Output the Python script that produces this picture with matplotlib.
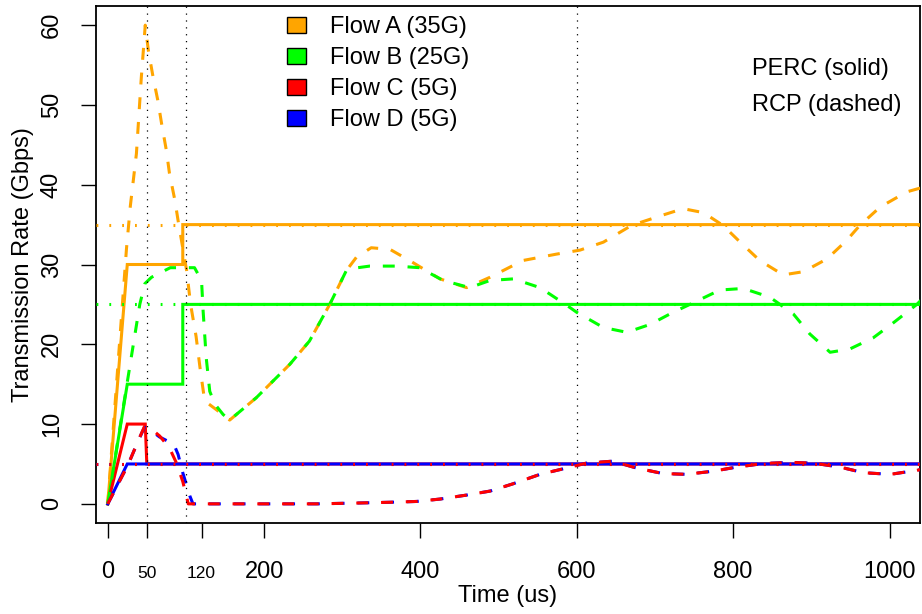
import matplotlib
matplotlib.use("Agg")
import matplotlib.pyplot as plt
from matplotlib.patches import Patch

plt.rcParams['font.family'] = ['Liberation Sans', 'DejaVu Sans']

# flow colours and legend names
flow_names = ['Flow A (35G)', 'Flow B (25G)', 'Flow C (5G)', 'Flow D (5G)']
flow_colors = ['#FFA500', '#00FF00', '#FF0000', '#0000FF']
fair_share = [35, 25, 5, 5]

# PERC rates (solid)
perc_a_t = [0, 25, 96, 96, 1040]
perc_a = [0, 30, 30, 35, 35]
perc_b_t = [0, 25, 96, 96, 1040]
perc_b = [0, 15, 15, 25, 25]
perc_c_t = [0, 25, 48, 50, 1040]
perc_c = [0, 10, 10, 5, 5]
perc_d_t = [0, 25, 1040]
perc_d = [0, 5, 5]

# RCP rates (dashed)
rcp_a_t = [0, 24, 29, 36.7, 43, 48, 52, 58, 64, 69, 75, 79, 86, 90, 101, 106, 113,
           118, 124, 139, 156, 190, 233, 258, 284, 305, 318, 337, 361, 386, 425, 459,
           489, 531, 574, 604, 634, 670, 707, 736, 762, 787, 809, 834, 864, 890, 920,
           945, 962, 988, 1022, 1040]
rcp_a = [0, 32, 37.4, 43.9, 53.5, 60, 56.8, 53.5, 50.6, 47.6, 44.3, 41.4, 38, 35.5,
         29.2, 25, 21, 17.1, 12.9, 11.8, 10.5, 13.3, 17.5, 20.4, 25, 29.2, 30.9, 32.1,
         31.9, 30.5, 28.2, 27.1, 28.4, 30.5, 31.3, 31.8, 32.8, 34.9, 36.1, 37, 36.5,
         34.9, 32.8, 30.5, 28.7, 29.1, 30.7, 33, 34.9, 37.2, 39.1, 39.6]
rcp_b_t = [0, 30, 41, 47.5, 56, 80, 111, 120, 122, 126, 130.5, 137, 147.6, 156, 190,
           233, 258, 284, 305, 320, 335, 369, 399, 429, 463, 489, 519, 553, 587, 600,
           634, 664, 694, 723, 749, 783, 813, 847, 877, 898, 924, 949, 979, 1005, 1035,
           1040]
rcp_b = [0, 18.3, 25, 27.6, 28.4, 29.6, 29.6, 28, 24.2, 18.3, 14.1, 12.5, 11.2, 10.5,
         13.3, 17.5, 20.4, 25, 29.2, 29.6, 29.8, 29.8, 29.6, 28, 27.1, 28, 28.2, 27.1,
         24.9, 24, 22.1, 21.5, 22.5, 24, 25.2, 26.8, 27, 25.9, 23.8, 21.3, 19, 19.4,
         20.8, 22.7, 25, 25.5]
rcp_c_t = [0, 26, 39, 47, 58, 66.5, 79, 88, 96, 103, 267, 318, 361, 395, 425, 459,
           489, 518, 553, 583, 612, 646, 676, 710, 740, 775, 804, 839, 873, 903, 937,
           967, 1001, 1035, 1040]
rcp_c = [0, 4.9, 7.9, 9.7, 9.2, 8.5, 7, 5.1, 2.8, 0, 0, 0.1, 0.2, 0.3, 0.6, 1.1, 1.6,
         2.5, 3.7, 4.4, 5.1, 5.35, 4.5, 3.8, 3.7, 4.1, 4.6, 5.06, 5.2, 5.1, 4.6, 3.9,
         3.7, 4.2, 4.3]
rcp_d_t = [0, 26, 39, 47, 54, 66, 76, 84, 90, 96, 105, 109, 267, 318, 361, 395, 425,
           459, 489, 518, 553, 583, 612, 646, 676, 710, 740, 775, 804, 839, 873, 903,
           937, 967, 1001, 1035, 1040]
rcp_d = [0, 4.9, 7.9, 9.6, 9.3, 8.4, 7.9, 7.6, 6.2, 3.9, 1, 0, 0, 0.1, 0.2, 0.3, 0.6,
         1.1, 1.6, 2.5, 3.7, 4.4, 5.1, 5.35, 4.5, 3.8, 3.7, 4.1, 4.6, 5.06, 5.2, 5.1,
         4.6, 3.9, 3.7, 4.2, 4.3]

event_times = [50, 100, 600]
x_ticks = [0, 50, 120, 200, 400, 600, 800, 1000]
small_ticks = [50, 120]
y_ticks = [0, 10, 20, 30, 40, 50, 60]

fig = plt.figure(figsize=(9.22, 6.14), dpi=100)
ax = fig.add_axes([96 / 922, 91 / 614, 824 / 922, 517 / 614])

lw = 2.2
perc = [(perc_a_t, perc_a), (perc_b_t, perc_b), (perc_c_t, perc_c), (perc_d_t, perc_d)]
for (t, r), c in zip(perc, flow_colors):
    ax.plot(t, r, color=c, lw=lw, solid_joinstyle='miter', zorder=3)

# blue before red so red sits on top
rcp = [(rcp_a_t, rcp_a), (rcp_b_t, rcp_b), (rcp_d_t, rcp_d), (rcp_c_t, rcp_c)]
order = [0, 1, 3, 2]
for (t, r), i in zip(rcp, order):
    ax.plot(t, r, color=flow_colors[i], lw=lw, dashes=(3.9, 4.2), zorder=4)

# fair-share levels
for i in order:
    ax.axhline(fair_share[i], color=flow_colors[i], lw=lw, dashes=(0.6, 3.6), zorder=5)

for t in event_times:
    ax.axvline(t, color='black', lw=0.9, dashes=(1, 4.5), zorder=6)

ax.set_xlim(-15, 1039)
ax.set_ylim(-2.4, 62.4)

ax.set_xticks(x_ticks)
ax.set_xticklabels([str(v) for v in x_ticks])
for lab, v in zip(ax.get_xticklabels(), x_ticks):
    lab.set_va('baseline')
    lab.set_fontsize(12.5 if v in small_ticks else 17)
ax.tick_params(axis='x', length=10.8, width=1.0, pad=29)

ax.set_yticks(y_ticks)
ax.set_yticklabels([str(v) for v in y_ticks], rotation=90, va='center', fontsize=17)
ax.tick_params(axis='y', length=10.8, width=1.0, pad=13)

for s in ax.spines.values():
    s.set_linewidth(1.3)

ax.set_xlabel('Time (us)', fontsize=17, va='baseline')
ax.xaxis.set_label_coords(0.5, -79 / 517)
ax.set_ylabel('Transmission Rate (Gbps)', fontsize=17, va='center')
ax.yaxis.set_label_coords(-73 / 824, 0.5)

handles = [Patch(facecolor=c, edgecolor='black', linewidth=1.0) for c in flow_colors]
ax.legend(handles, flow_names, loc='upper left', bbox_to_anchor=(191 / 824, 0.98),
          frameon=False, fontsize=17, handlelength=0.8, handleheight=0.7,
          handletextpad=1.0, labelspacing=0.38, borderpad=0, borderaxespad=0)

ax.text(656 / 824, 1 - 63 / 517, 'PERC (solid)', fontsize=17, ha='left', va='center',
        transform=ax.transAxes)
ax.text(656 / 824, 1 - 99 / 517, 'RCP (dashed)', fontsize=17, ha='left', va='center',
        transform=ax.transAxes)

fig.savefig('out.png', dpi=100)
